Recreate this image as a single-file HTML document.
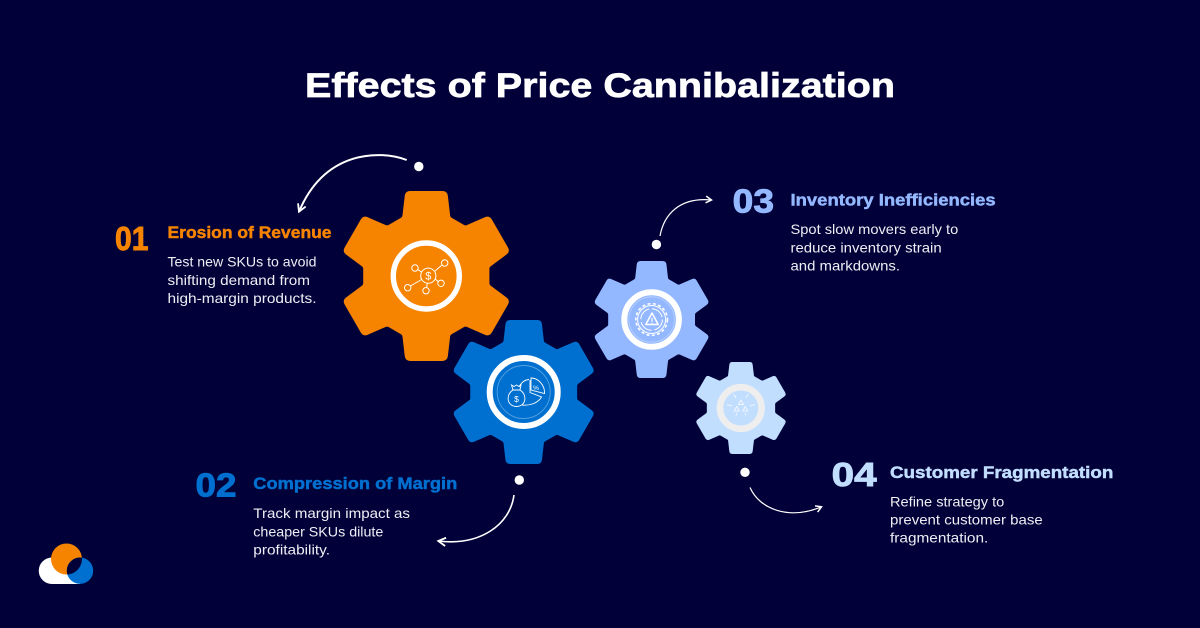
<!DOCTYPE html>
<html lang="en">
<head>
<meta charset="utf-8">
<title>Effects of Price Cannibalization</title>
<style>
html,body{margin:0;padding:0;background:#010038}
svg{display:block}
text{font-family:"Liberation Sans",sans-serif}
.b{font-weight:700}
.body{font-size:14px;fill:#eeeef4}
.h{font-size:16.5px;font-weight:700;stroke-width:.45}
.n{font-size:33.5px;font-weight:700;stroke-width:.9}
.c1{fill:#f78400;stroke:#f78400}
.c2{fill:#0070d0;stroke:#0070d0}
.c3{fill:#94b8ff;stroke:#94b8ff}
.c4{fill:#c2deff;stroke:#c2deff}
</style>
</head>
<body>
<svg xmlns="http://www.w3.org/2000/svg" width="1200" height="628" viewBox="0 0 1200 628">
<defs>
<clipPath id="orangeClip"><circle cx="66.5" cy="559" r="15.5"/></clipPath>
<marker id="ah" viewBox="0 0 12 12" refX="10" refY="6" markerWidth="11" markerHeight="11" markerUnits="userSpaceOnUse" orient="auto"><path d="M2 1.5 L10 6 L2 10.5" fill="none" stroke="#fff" stroke-width="2"/></marker>
<marker id="ahs" viewBox="0 0 12 12" refX="10" refY="6" markerWidth="9" markerHeight="9" markerUnits="userSpaceOnUse" orient="auto"><path d="M2.5 1.5 L10 6 L2.5 10.5" fill="none" stroke="#fff" stroke-width="2"/></marker>
</defs>
<rect width="1200" height="628" fill="#010038"/>
<text class="b" x="305" y="97" font-size="34.5" fill="#fff" stroke="#fff" stroke-width=".7" textLength="590" lengthAdjust="spacingAndGlyphs">Effects of Price Cannibalization</text>

<!-- gears -->
<path class="gear" data-cx="426.3" data-cy="276" data-r="85" fill="#f78400"/>
<path class="gear" data-cx="523.7" data-cy="392" data-r="72" fill="#0070d0"/>
<path class="gear" data-cx="651.6" data-cy="319.5" data-r="58.5" fill="#94b8ff"/>
<path class="gear" data-cx="741" data-cy="408" data-r="46" fill="#c2deff"/>

<circle cx="426.3" cy="276" r="33" fill="none" stroke="#fff" stroke-width="5.4"/>
<circle cx="523.7" cy="392" r="34" fill="none" stroke="#fff" stroke-width="6"/>
<circle cx="651.6" cy="319.5" r="27.3" fill="none" stroke="#fff" stroke-width="6"/>
<circle cx="740.8" cy="408" r="20.8" fill="none" stroke="#eeeeee" stroke-width="6.6"/>

<!-- icon 1 network -->
<g fill="none" stroke="#fff" stroke-width="1">
<circle cx="428.3" cy="275.7" r="7.6"/>
<circle cx="415" cy="268" r="3.2"/><circle cx="444.7" cy="263" r="3.2"/><circle cx="441" cy="283.3" r="3.2"/><circle cx="426" cy="290.7" r="3.2"/><circle cx="407.7" cy="287.7" r="3.2"/>
<path d="M418 269.6 L421.5 272 M435 271 L442 265 M435.3 279 L438 281.5 M427.3 283.3 L426.6 287.5 M421.6 279.5 L410.5 286"/>
</g>
<text x="428.3" y="279.7" font-size="11" fill="#fff" text-anchor="middle">$</text>

<!-- icon 2 money bag + pie -->
<g fill="none" stroke="#fff" stroke-width="0.9">
<circle cx="523.7" cy="392" r="26.5" opacity=".35"/>
<path d="M529 379.5 C524 380 521 383 519 387 M522 405 C530 406 538 403 541.5 397 L530 392.5 L530 380"/>
<path d="M531 378 C538 378 545 385 544.5 393.5 L531 390 Z"/>
<path d="M513 390 C506 394 506 406 516.5 406.5 C527 406 527 394 520 390 Z"/>
<path d="M513 390 L511.5 385 L514 386.5 L516.5 385 L519 386.5 L521 385 L520 390"/>
</g>
<text x="516.5" y="402" font-size="8.5" fill="#fff" text-anchor="middle">$</text>
<text x="536" y="390" font-size="6.5" fill="#fff" text-anchor="middle">%</text>

<!-- icon 3 warning gear -->
<g fill="none" stroke="#fff">
<circle cx="651.6" cy="319.5" r="22.7" stroke-width=".8" opacity=".35"/>
<circle cx="651.6" cy="319.5" r="14" stroke-width="1"/>
<circle cx="651.6" cy="319.5" r="15.8" stroke-width="1.6" stroke-dasharray="3 2.4"/>
<circle cx="651.6" cy="319.5" r="10.8" stroke-width="1" stroke-dasharray="14 3"/>
<path d="M652 313 L658.2 324.5 L645.8 324.5 Z" stroke-width="1.5" stroke-linejoin="round"/>
</g>
<text x="652" y="323.8" font-size="8.5" class="b" fill="#fff" text-anchor="middle">!</text>

<!-- icon 4 fragmentation -->
<g fill="none" stroke="#eef5ff" stroke-width="1">
<path d="M741 400 L743.5 404.5 L738.5 404.5 Z M736.7 406.5 L739.2 411 L734.2 411 Z M745.3 406.5 L747.8 411 L742.8 411 Z"/>
<path d="M736 398 L735 396 M733.5 394.5 L735 396 M746 398 L747 396 M748.5 394.5 L747 396 M732 406 L729 405 M727 405 L729 405 M750 406 L753 405 M755 405 L753 405 M737 413 L736 415.5 M745 413 L746 415.5"/>
</g>

<!-- dots and arrows -->
<circle cx="418.8" cy="166.5" r="4.7" fill="#fff"/>
<circle cx="519.3" cy="480" r="4.7" fill="#fff"/>
<circle cx="656.4" cy="244.5" r="4.7" fill="#fff"/>
<circle cx="745" cy="472.3" r="4.7" fill="#fff"/>
<path d="M406.7 160 C 380 150, 325 150, 299 211.7" fill="none" stroke="#fff" stroke-width="2" marker-end="url(#ah)"/>
<path d="M514 495 C 510 525, 480 546, 438.3 541" fill="none" stroke="#fff" stroke-width="1.6" marker-end="url(#ah)"/>
<path d="M660 236 C 664 214, 680 197, 711.5 200" fill="none" stroke="#fff" stroke-width="1.2" marker-end="url(#ahs)"/>
<path d="M750 487.5 C 760 510, 790 520, 821.5 506.8" fill="none" stroke="#fff" stroke-width="1.2" marker-end="url(#ahs)"/>

<!-- section 1 -->
<text class="n c1" x="115" y="250" textLength="33.5" lengthAdjust="spacingAndGlyphs">01</text>
<text class="h c1" x="167.5" y="238" textLength="164" lengthAdjust="spacingAndGlyphs">Erosion of Revenue</text>
<text class="body" x="167.5" y="266.5" textLength="149" lengthAdjust="spacingAndGlyphs">Test new SKUs to avoid</text>
<text class="body" x="167.5" y="285" textLength="142.5" lengthAdjust="spacingAndGlyphs">shifting demand from</text>
<text class="body" x="167.5" y="303" textLength="149" lengthAdjust="spacingAndGlyphs">high-margin products.</text>

<!-- section 2 -->
<text class="n c2" x="195.5" y="496.7" textLength="41" lengthAdjust="spacingAndGlyphs">02</text>
<text class="h c2" x="253.3" y="489" textLength="204" lengthAdjust="spacingAndGlyphs">Compression of Margin</text>
<text class="body" x="253.3" y="518" textLength="156.7" lengthAdjust="spacingAndGlyphs">Track margin impact as</text>
<text class="body" x="253.3" y="536.5" textLength="130" lengthAdjust="spacingAndGlyphs">cheaper SKUs dilute</text>
<text class="body" x="253.3" y="554.5" textLength="76.7" lengthAdjust="spacingAndGlyphs">profitability.</text>

<!-- section 3 -->
<text class="n c3" x="732.7" y="212.5" textLength="41.3" lengthAdjust="spacingAndGlyphs">03</text>
<text class="h c3" x="790.5" y="205.5" textLength="205.2" lengthAdjust="spacingAndGlyphs">Inventory Inefficiencies</text>
<text class="body" x="790.5" y="234" textLength="167.8" lengthAdjust="spacingAndGlyphs">Spot slow movers early to</text>
<text class="body" x="790.5" y="252.3" textLength="151.2" lengthAdjust="spacingAndGlyphs">reduce inventory strain</text>
<text class="body" x="790.5" y="270.3" textLength="109.5" lengthAdjust="spacingAndGlyphs">and markdowns.</text>

<!-- section 4 -->
<text class="n c4" x="831.7" y="486" textLength="45" lengthAdjust="spacingAndGlyphs">04</text>
<text class="h c4" x="890" y="478" textLength="223.3" lengthAdjust="spacingAndGlyphs">Customer Fragmentation</text>
<text class="body" x="890" y="506.3" textLength="114.3" lengthAdjust="spacingAndGlyphs">Refine strategy to</text>
<text class="body" x="890" y="524.3" textLength="152.7" lengthAdjust="spacingAndGlyphs">prevent customer base</text>
<text class="body" x="890" y="542.3" textLength="98.3" lengthAdjust="spacingAndGlyphs">fragmentation.</text>

<!-- logo -->
<g>
<path d="M52 557.5 H80 V584 H52 A13.25 13.25 0 0 1 52 557.5 Z" fill="#fff"/>
<circle cx="66.5" cy="559" r="15.5" fill="#f78400"/>
<circle cx="80" cy="570.7" r="13.2" fill="#0070d0"/>
<circle cx="80" cy="570.7" r="13.2" fill="#010038" clip-path="url(#orangeClip)"/>
</g>
</svg>
<script>
function gearPath(cx, cy, R) {
  var s = R / 85, pts = [], t, i;
  var shape = [[-24, 59], [-21, 85], [21, 85], [24, 59]];
  for (t = 0; t < 6; t++) {
    var a = t * Math.PI / 3, c = Math.cos(a), d = Math.sin(a);
    for (i = 0; i < 4; i++) {
      var x = shape[i][0] * s, y = shape[i][1] * s;
      pts.push({x: cx + x * c + y * d, y: cy + x * d - y * c, tip: i === 1 || i === 2});
    }
  }
  var out = '', n = pts.length;
  for (i = 0; i < n; i++) {
    var p = pts[i], a0 = pts[(i + n - 1) % n], b0 = pts[(i + 1) % n];
    var rad = (p.tip ? 5 : 1.5) * s;
    var la = Math.hypot(a0.x - p.x, a0.y - p.y), lb = Math.hypot(b0.x - p.x, b0.y - p.y);
    var ax = p.x + (a0.x - p.x) * rad / la, ay = p.y + (a0.y - p.y) * rad / la;
    var bx = p.x + (b0.x - p.x) * rad / lb, by = p.y + (b0.y - p.y) * rad / lb;
    out += (i ? 'L' : 'M') + ax.toFixed(2) + ' ' + ay.toFixed(2) + 'Q' + p.x.toFixed(2) + ' ' + p.y.toFixed(2) + ' ' + bx.toFixed(2) + ' ' + by.toFixed(2);
  }
  return out + 'Z';
}
document.querySelectorAll('.gear').forEach(function (g) {
  g.setAttribute('d', gearPath(+g.getAttribute('data-cx'), +g.getAttribute('data-cy'), +g.getAttribute('data-r')));
});
</script>
</body>
</html>
